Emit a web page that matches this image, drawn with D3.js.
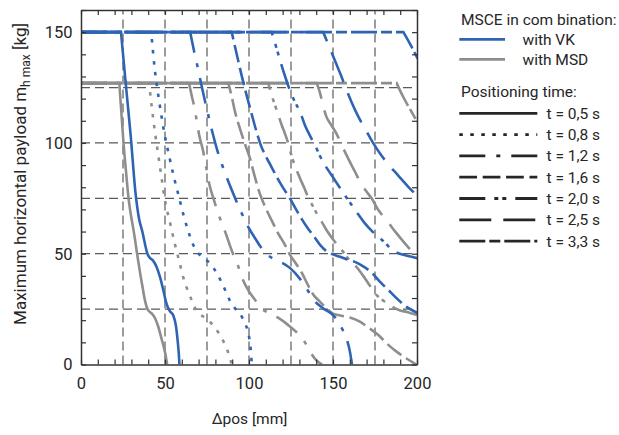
<!DOCTYPE html>
<html><head><meta charset="utf-8">
<script src="https://cdn.jsdelivr.net/npm/d3@7"></script>
<style>
body{margin:0;background:#fff}
text{font-family:Roboto,"Noto Sans",sans-serif;fill:#262626}
</style>
</head><body>
<svg id="c" width="619" height="435"></svg>
<script>
// ---------- data ----------
const xTickLabels=[0,50,100,150,200];
const yTickLabels=[0,50,100,150];
const gridX=[25,50,75,100,125,150,175];
const gridY=[25,50,75,100,125];
const plateauVK=150, plateauMSD=127;
const timeLabels=["t = 0,5 s","t = 0,8 s","t = 1,2 s","t = 1,6 s","t = 2,0 s","t = 2,5 s","t = 3,3 s"];
const combLabels=["with VK","with MSD"];

// MSCE with VK (blue) — descent after plateau, [Δpos mm, payload kg]
const vk05=[[23.8,150],[26.6,127],[29.5,104],[32.5,77],[34.5,66],[36.5,60],[38.2,54],[39.3,50.5],[40.8,48.3],[42.8,47],[45,44],[47,39.5],[49,33.5],[50.5,28.5],[51.7,25.8],[53,24],[55,22],[56.5,17.5],[57.5,11],[58.2,5],[58.6,0]];
const vk08=[[41.8,150],[43.8,134],[46.5,119],[49.5,105],[52.5,94],[55.5,84],[58.5,75],[61,67.5],[63.5,61],[66.5,54.5],[69.5,50.5],[73,48],[77,45.5],[81,41],[85,35],[88.5,29],[91.5,25.5],[95,22.5],[97.6,18.5],[99.8,13.5],[101,7],[101.7,0]];
const vk12=[[65,150],[67,142.5],[69.5,134],[72,125],[75,115],[78,105.5],[81,97],[84.5,89],[88,82],[91.5,75.5],[95.5,68.5],[99.6,62],[103.6,57],[107,53],[111,49.5],[115,47.5],[119.5,46],[124.5,43.5],[130,39],[134.5,34],[139.3,28.5],[144.2,25.3],[150,22.3],[153,19.5],[155.5,16],[158.1,11.5],[160.1,5.7],[161.3,0]];
const vk16=[[89.7,150],[92.7,140],[95.6,130.5],[98.6,121.5],[101.6,113],[104.5,105],[107,99],[110,94],[113.5,89],[117,84],[120.5,79.5],[124,75.5],[128,70],[131.5,65.5],[135,61.5],[138.5,58],[142.3,54],[146,51.2],[149.5,49.8],[154.2,48.6],[160,47],[164,46],[167.5,44.5],[173,41.5],[178,37.3],[183,33.6],[188,29.8],[193.8,26],[198.8,23.8],[201,23]];
const vk20=[[113.5,150],[116.5,142.5],[119,136],[121.5,130],[124,124.5],[127,119],[130.4,114],[133.3,108],[136.5,103],[139.3,99],[142.3,94],[145.2,90],[149.2,85.4],[153,81],[157.1,76.4],[161.1,72],[165,67.8],[169,63.7],[173.5,60],[178,57],[181,55],[184,52.5],[188.9,50.2],[193,49.3],[196.8,48.6],[201,47.8]];
const vk25=[[144.2,150],[148.2,142.6],[151.5,136.5],[154.5,131],[157.5,125],[161,118.5],[165,112],[169,106.5],[173.5,100.5],[178,95.2],[183,90.3],[188,86],[191.5,83],[194.8,80.2],[201,75.5]];
const vk33=[[191.9,150],[196,144.5],[199.8,139],[202,136]];

// MSCE with MSD (grey)
const msd05=[[22.8,127],[24,114],[25.3,100],[26.8,87],[28.3,75],[29.8,67],[31.2,61],[34.1,46.5],[36.5,35.5],[38.2,28.5],[39.3,25.5],[40.5,24],[42.2,23],[44,21],[45.8,17.5],[48,11.5],[50,5.5],[51.3,0]];
const msd08=[[40.5,127],[42,117],[44,105],[46,94.5],[48,84],[50,74],[53,64],[56,54],[58.5,46.5],[61,39],[64,32.5],[66.5,28],[69,24],[72,22],[75,20.5],[79.8,16.5],[83.7,12],[86.5,7.5],[88.7,3],[89.7,0]];
const msd12=[[64.3,127],[66,121],[67.5,116],[69,109.5],[70.5,103],[72.5,97],[74.5,89],[76.5,81],[78.8,75],[82.7,66],[86,59.5],[88.5,54],[90.7,49.5],[93.5,44.5],[96.5,38],[100,33],[104.5,28.3],[108,25],[111.5,23.3],[117.5,21],[123,18],[128.4,14.5],[133.3,10],[137,5],[140,2],[143.5,0]];
const msd16=[[87.7,127],[89.7,121],[91.7,114],[94.6,106.5],[97.6,99.5],[100.6,93],[103,86],[106.5,77],[110,70.5],[113.5,65],[117.5,59],[121.4,54],[124.4,49.5],[128,45.5],[131.5,41.3],[135,36],[138.3,31.5],[142.3,28.3],[146,25.5],[150,23],[155,22],[160,21.2],[166,19.3],[171,16.7],[177,13.3],[182,9.5],[188,5.7],[193.8,2.7],[199.5,0]];
const msd20=[[111.5,127],[113.5,121.5],[115.5,117],[117.5,112.5],[119.5,108],[121.5,104],[123.4,99.7],[125.4,94],[127.4,89.5],[130.4,84],[133,79.5],[135.5,75],[138,71.5],[140.3,68.2],[143.3,64.4],[146.2,60.6],[150.5,56],[155.2,51.6],[160,47],[164,44],[168,40],[172,35.5],[176,31.3],[180,28.8],[183,27.3],[187,25.3],[190,24.4],[194,23.7],[200,22.3]];
const msd25=[[140.3,127],[142.3,122.5],[144,117],[146,112],[149,108],[152.2,104],[155.2,99],[159,93],[163.1,87],[167.1,81],[170,78],[173,75],[177,69.7],[182,65],[187.5,59.5],[192.9,54.6],[196.5,51.5],[201,48]];
const msd33=[[187.9,127],[190,123.5],[192,120.5],[196,115],[201,108.5]];

// ---------- styles ----------
const dashes=["none","3.5,7.5","26,11,4,11","17.7,5.7","26,9,4,4,4,9","32,12","26,4,11,4"];
const BLUE="#2f64b4", GREY="#8e8e8e", DARK="#262626";

const svg=d3.select("#c");
const x=d3.scaleLinear([0,200],[81,417]);
const y=d3.scaleLinear([0,160],[364.5,10]);

svg.append("defs").append("clipPath").attr("id","pc").append("rect")
  .attr("x",x(0)).attr("y",y(160)).attr("width",x(200)-x(0)).attr("height",y(0)-y(160));

// grid
const grid=svg.append("g").attr("stroke","#5a5a5a").attr("stroke-width",1.2).attr("stroke-dasharray","9,5");
grid.selectAll(".gx").data(gridX).join("line").attr("x1",d=>x(d)).attr("x2",d=>x(d)).attr("y1",y(0)).attr("y2",y(160));
grid.selectAll(".gy").data(gridY).join("line").attr("y1",d=>y(d)).attr("y2",d=>y(d)).attr("x1",x(0)).attr("x2",x(200));

// curves
function curvePath(plateau,pts){
  const lin=`M${x(0)},${y(plateau)}L${x(pts[0][0])},${y(pts[0][1])}`;
  const mono=d3.line().x(d=>x(d[0])).y(d=>y(d[1])).curve(d3.curveMonotoneX)(pts);
  return lin+mono.replace(/^M[-\d.,e]*/,"");
}
const plot=svg.append("g").attr("clip-path","url(#pc)").attr("fill","none").attr("stroke-width",2.6);
const msdSeries=[msd33,msd25,msd20,msd16,msd12,msd08,msd05];
const vkSeries=[vk33,vk25,vk20,vk16,vk12,vk08,vk05];
msdSeries.forEach((s,i)=>{
  const k=6-i;
  plot.append("path").attr("d",curvePath(plateauMSD,s)).attr("stroke",GREY).attr("stroke-dasharray",dashes[k]);
});
vkSeries.forEach((s,i)=>{
  const k=6-i;
  plot.append("path").attr("d",curvePath(plateauVK,s)).attr("stroke",BLUE).attr("stroke-dasharray",dashes[k]);
});

// axes with inward ticks
const minorX=d3.range(0,201,10), minorY=d3.range(0,161,10);
function style(g){
  g.attr("font-family",null).attr("font-size",null);
  g.selectAll(".domain").attr("stroke","#333").attr("stroke-width",1.5);
  g.selectAll(".tick line").attr("stroke","#333").attr("stroke-width",1.2);
  g.selectAll("text").attr("fill","#262626").style("font-size","16.5px");
}
svg.append("g").attr("transform",`translate(0,${y(0)})`)
  .call(d3.axisBottom(x).tickValues(minorX).tickSizeInner(-5).tickSizeOuter(0).tickPadding(13)
    .tickFormat(d=>xTickLabels.includes(d)?d:"")).call(style);
svg.append("g").attr("transform",`translate(${x(0)},0)`)
  .call(d3.axisLeft(y).tickValues(minorY).tickSizeInner(-5).tickSizeOuter(0).tickPadding(8.5)
    .tickFormat(d=>yTickLabels.includes(d)?d:"")).call(style);
svg.append("g").attr("transform",`translate(0,${y(160)})`)
  .call(d3.axisTop(x).tickValues(minorX).tickSizeInner(-5).tickSizeOuter(0).tickFormat("")).call(style);
svg.append("g").attr("transform",`translate(${x(200)},0)`)
  .call(d3.axisRight(y).tickValues(minorY).tickSizeInner(-5).tickSizeOuter(0).tickFormat("")).call(style);

// axis titles
svg.append("text").attr("x",249.5).attr("y",424).attr("text-anchor","middle").style("font-size","15.5px").text("Δpos [mm]");
const yl=svg.append("text").attr("transform","translate(26,174) rotate(-90)").attr("text-anchor","middle").style("font-size","17px");
yl.append("tspan").text("Maximum horizontal payload  m");
yl.append("tspan").attr("dy",4).style("font-size","12px").text("h max");
yl.append("tspan").attr("dy",-4).text(" [kg]");

// legend
const lg=svg.append("g");
lg.append("text").attr("x",461).attr("y",25).style("font-size","15.5px").text("MSCE in com bination:");
[BLUE,GREY].forEach((c,i)=>{
  const yy=39.3+i*20;
  lg.append("line").attr("x1",459.3).attr("x2",505).attr("y1",yy).attr("y2",yy).attr("stroke",c).attr("stroke-width",2.8);
  lg.append("text").attr("x",522.5).attr("y",yy+5.5).style("font-size","15.5px").text(combLabels[i]);
});
lg.append("text").attr("x",461).attr("y",97).style("font-size","15.5px").text("Positioning time:");
timeLabels.forEach((t,i)=>{
  const yy=113.3+i*21.3;
  lg.append("line").attr("x1",459.3).attr("x2",537.3).attr("y1",yy).attr("y2",yy).attr("stroke",DARK).attr("stroke-width",2.8).attr("stroke-dasharray",dashes[i]);
  lg.append("text").attr("x",546.5).attr("y",yy+5.5).style("font-size","15.5px").text(t);
});
</script>
</body></html>
